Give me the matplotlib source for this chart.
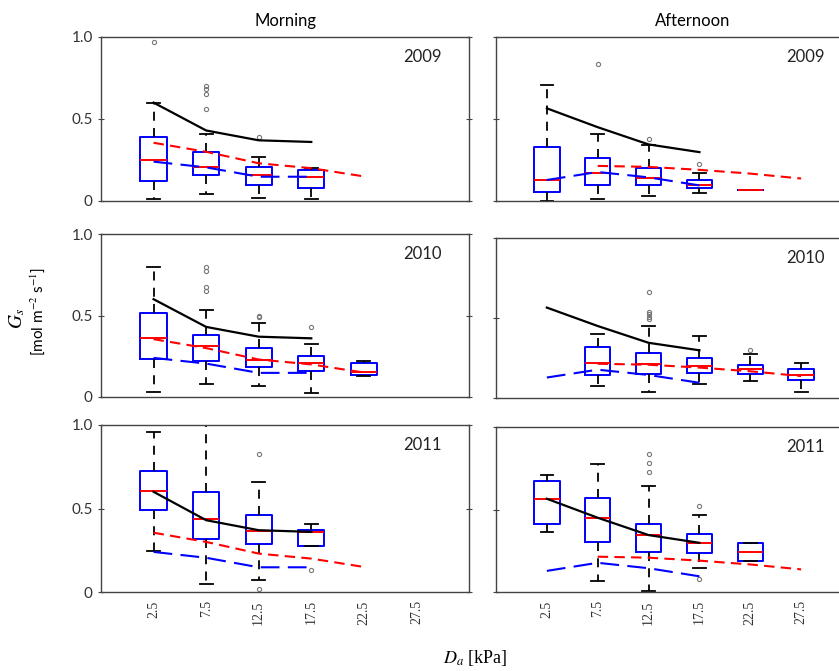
import matplotlib as mpl
mpl.use('Agg')
import matplotlib.pyplot as plt

plt.rcParams['font.family'] = ['Lato', 'DejaVu Sans']
plt.rcParams['mathtext.fontset'] = 'stix'

# vapour pressure deficit classes [kPa]
da = [2.5, 7.5, 12.5, 17.5, 22.5, 27.5]
da_labels = ['2.5', '7.5', '12.5', '17.5', '22.5', '27.5']

# reference curves (same in every panel of a column)
am_black = [0.60, 0.43, 0.37, 0.36]
am_red = [0.355, 0.30, 0.23, 0.20, 0.15]
am_blue = [0.24, 0.205, 0.148, 0.148]
pm_black = [0.565, 0.45, 0.345, 0.298]
pm_red = [0.214, 0.208, 0.19, 0.167, 0.137]
pm_blue = [0.128, 0.177, 0.144, 0.095]

# box statistics: lower whisker, q1, median, q3, upper whisker, outliers
m09_pos = [2.5, 7.5, 12.5, 17.5]
m09_lo = [0.01, 0.04, 0.02, 0.01]
m09_q1 = [0.12, 0.16, 0.10, 0.08]
m09_med = [0.25, 0.21, 0.157, 0.147]
m09_q3 = [0.39, 0.30, 0.21, 0.19]
m09_hi = [0.60, 0.41, 0.27, 0.20]
m09_out = [[0.97], [0.70, 0.68, 0.65, 0.56], [0.39], []]

a09_pos = [2.5, 7.5, 12.5, 17.5, 22.5]
a09_lo = [0.0, 0.01, 0.03, 0.05, 0.07]
a09_q1 = [0.055, 0.096, 0.096, 0.08, 0.07]
a09_med = [0.127, 0.173, 0.143, 0.10, 0.07]
a09_q3 = [0.33, 0.263, 0.204, 0.127, 0.07]
a09_hi = [0.71, 0.41, 0.34, 0.17, 0.07]
a09_out = [[], [0.835], [0.38], [0.225], []]

m10_pos = [2.5, 7.5, 12.5, 17.5, 22.5]
m10_lo = [0.03, 0.08, 0.068, 0.027, 0.13]
m10_q1 = [0.236, 0.221, 0.184, 0.158, 0.133]
m10_med = [0.359, 0.313, 0.23, 0.209, 0.154]
m10_q3 = [0.518, 0.379, 0.30, 0.252, 0.209]
m10_hi = [0.795, 0.533, 0.457, 0.328, 0.22]
m10_out = [[], [0.80, 0.775, 0.676, 0.65], [0.50, 0.49], [0.43], []]

a10_pos = [7.5, 12.5, 17.5, 22.5, 27.5]
a10_lo = [0.075, 0.038, 0.086, 0.107, 0.038]
a10_q1 = [0.142, 0.149, 0.157, 0.153, 0.115]
a10_med = [0.22, 0.211, 0.20, 0.184, 0.142]
a10_q3 = [0.316, 0.282, 0.253, 0.209, 0.184]
a10_hi = [0.397, 0.452, 0.387, 0.278, 0.22]
a10_out = [[], [0.665, 0.54, 0.523, 0.508, 0.494], [], [0.30], []]

m11_pos = [2.5, 7.5, 12.5, 17.5]
m11_lo = [0.244, 0.046, 0.07, 0.274]
m11_q1 = [0.49, 0.32, 0.29, 0.274]
m11_med = [0.604, 0.44, 0.366, 0.36]
m11_q3 = [0.724, 0.60, 0.46, 0.374]
m11_hi = [0.96, 1.0, 0.66, 0.41]
m11_out = [[], [], [0.826, 0.02], [0.134]]

a11_pos = [2.5, 7.5, 12.5, 17.5, 22.5]
a11_lo = [0.366, 0.068, 0.004, 0.145, 0.185]
a11_q1 = [0.412, 0.306, 0.245, 0.239, 0.185]
a11_med = [0.563, 0.447, 0.346, 0.296, 0.241]
a11_q3 = [0.674, 0.571, 0.412, 0.352, 0.296]
a11_hi = [0.712, 0.773, 0.642, 0.467, 0.296]
a11_out = [[], [], [0.839, 0.779, 0.728], [0.523, 0.078], []]

years = ['2009', '2010', '2011']

W, H = 839, 671
fig = plt.figure(figsize=(W / 100, H / 100), dpi=100)

# panel rectangles in pixels: left, top, width, height
rects_left = [(101, 37, 368, 164), (101, 234, 368, 163), (101, 425, 368, 167)]
rects_right = [(496, 37, 356, 164), (496, 238, 356, 160), (496, 427, 356, 165)]


def make_ax(r):
    l, t, w, h = r
    return fig.add_axes([l / W, 1 - (t + h) / H, w / W, h / H])


def draw_panel(ax, pos, lo, q1, med, q3, hi, out):
    stats = []
    for i in range(len(pos)):
        stats.append(dict(whislo=lo[i], q1=q1[i], med=med[i], q3=q3[i],
                          whishi=hi[i], fliers=out[i]))
    ax.bxp(stats, positions=pos, widths=2.5, capwidths=1.25, manage_ticks=False,
           boxprops=dict(color='blue', lw=1.4),
           medianprops=dict(color='red', lw=1.4),
           whiskerprops=dict(color='black', ls=(0, (5, 4)), lw=1.3),
           capprops=dict(color='black', lw=1.3),
           flierprops=dict(marker='o', ms=3, mfc='none', mec='#777777', mew=0.8))


def style_ax(ax, rect, year, left, bottom):
    ax.set_xlim(-2.5, 32.5)
    ax.set_ylim(0, 1)
    ax.set_yticks([0, 0.5, 1.0])
    ax.set_xticks(da)
    for s in ax.spines.values():
        s.set_color('#444444')
        s.set_linewidth(1.0)
    ax.tick_params(axis='y', direction='inout', length=4, color='#444444',
                   right=True, labelsize=11, labelcolor='#333333', pad=4)
    ax.tick_params(axis='x', length=0, pad=6, labelcolor='#333333')
    if left:
        ax.set_yticklabels(['0', '0.5', '1.0'])
    else:
        ax.set_yticklabels([])
    if bottom:
        ax.set_xticklabels(da_labels, rotation=90, family='Liberation Serif',
                           fontsize=10)
    else:
        ax.set_xticklabels([])
    h = rect[3]
    w = rect[2]
    ax.text(1 - 27 / w, 1 - 20 / h, year, transform=ax.transAxes,
            ha='right', va='center', fontsize=12, color='#222222')


am_data = [
    (m09_pos, m09_lo, m09_q1, m09_med, m09_q3, m09_hi, m09_out),
    (m10_pos, m10_lo, m10_q1, m10_med, m10_q3, m10_hi, m10_out),
    (m11_pos, m11_lo, m11_q1, m11_med, m11_q3, m11_hi, m11_out),
]
pm_data = [
    (a09_pos, a09_lo, a09_q1, a09_med, a09_q3, a09_hi, a09_out),
    (a10_pos, a10_lo, a10_q1, a10_med, a10_q3, a10_hi, a10_out),
    (a11_pos, a11_lo, a11_q1, a11_med, a11_q3, a11_hi, a11_out),
]

for row in range(3):
    ax = make_ax(rects_left[row])
    draw_panel(ax, *am_data[row])
    ax.plot(da[:4], am_black, color='black', lw=1.6, zorder=3)
    ax.plot(da[:5], am_red, color='red', lw=1.5, dashes=(5, 3), zorder=3)
    ax.plot(da[:4], am_blue, color='blue', lw=1.5, dashes=(9, 4), zorder=3)
    style_ax(ax, rects_left[row], years[row], True, row == 2)
    if row == 0:
        ax.set_title('Morning', fontsize=12, pad=8)

    ax = make_ax(rects_right[row])
    draw_panel(ax, *pm_data[row])
    ax.plot(da[:4], pm_black, color='black', lw=1.6, zorder=3)
    ax.plot(da[1:], pm_red, color='red', lw=1.5, dashes=(5, 3), zorder=3)
    ax.plot(da[:4], pm_blue, color='blue', lw=1.5, dashes=(9, 4), zorder=3)
    style_ax(ax, rects_right[row], years[row], False, row == 2)
    if row == 0:
        ax.set_title('Afternoon', fontsize=12, pad=8, x=0.553)

fig.text(17 / W, 1 - 318 / H, r'$G_s$', rotation=90, ha='center', va='center',
         fontsize=14)
fig.text(38 / W, 1 - 312 / H, r'[mol m$^{-2}$ s$^{-1}$]', rotation=90,
         ha='center', va='center', fontsize=11)
fig.text(475 / W, 1 - 658 / H, r'$D_a$ [kPa]', ha='center', va='center',
         family='Liberation Serif', fontsize=13)

fig.savefig('out.png', dpi=100)
